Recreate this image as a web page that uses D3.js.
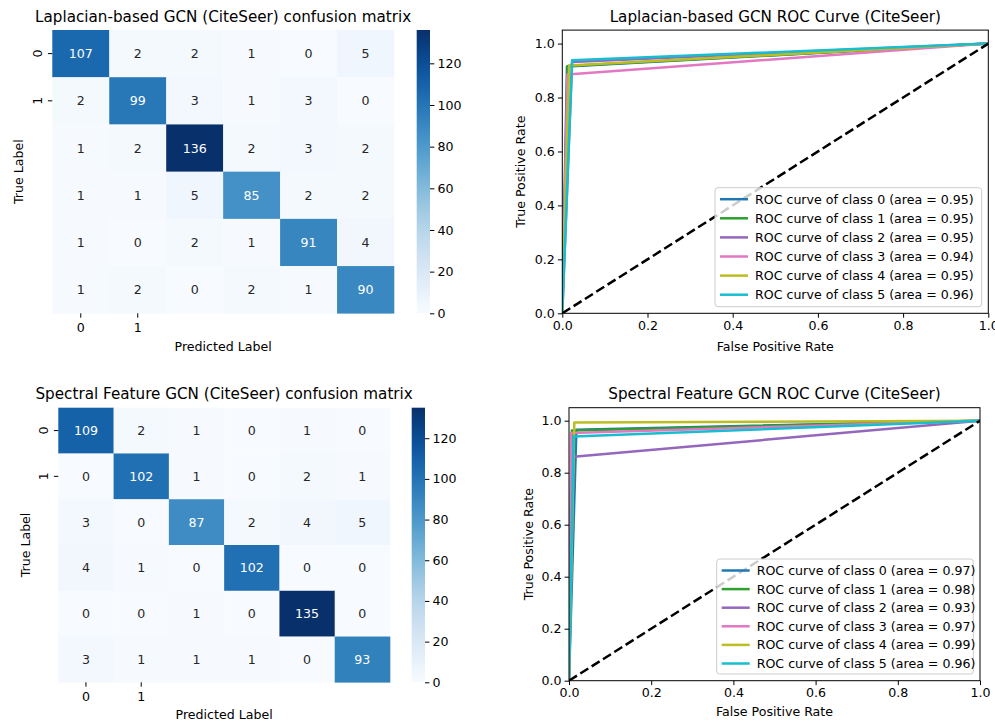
<!DOCTYPE html>
<html><head><meta charset="utf-8">
<script src="https://cdn.jsdelivr.net/npm/d3@7"></script>
<style>body{margin:0;background:#fff}svg{display:block;font-family:"DejaVu Sans",sans-serif}</style>
</head><body><svg id="c" width="995" height="725"></svg>
<script>
// ---------------- data ----------------
const classes = [0, 1, 2, 3, 4, 5];
const heatTickLabels = ["0", "1"];
const cbarTicks = [0, 20, 40, 60, 80, 100, 120];
const rocTicks = [0, 0.2, 0.4, 0.6, 0.8, 1.0];

const lapMatrix = [
  [107, 2, 2, 1, 0, 5],
  [2, 99, 3, 1, 3, 0],
  [1, 2, 136, 2, 3, 2],
  [1, 1, 5, 85, 2, 2],
  [1, 0, 2, 1, 91, 4],
  [1, 2, 0, 2, 1, 90]
];
const specMatrix = [
  [109, 2, 1, 0, 1, 0],
  [0, 102, 1, 0, 2, 1],
  [3, 0, 87, 2, 4, 5],
  [4, 1, 0, 102, 0, 0],
  [0, 0, 1, 0, 135, 0],
  [3, 1, 1, 1, 0, 93]
];
const lapFpr = [0.011, 0.013, 0.023, 0.012, 0.016, 0.023];
const lapTpr = [0.915, 0.917, 0.932, 0.885, 0.919, 0.938];
const lapAuc = ["0.95", "0.95", "0.95", "0.94", "0.95", "0.96"];
const specFpr = [0.018, 0.007, 0.011, 0.005, 0.013, 0.011];
const specTpr = [0.965, 0.962, 0.861, 0.953, 0.993, 0.939];
const specAuc = ["0.97", "0.98", "0.93", "0.97", "0.99", "0.96"];
const curveColors = ["#1f77b4", "#2ca02c", "#9467bd", "#e377c2", "#bcbd22", "#17becf"];

// ---------------- drawing ----------------
const svg = d3.select("#c");
const FS = 12.6, TFS = 15.2, LW = 2.5;
const txt = "#000";

function lum(c) {
  const r = d3.rgb(c);
  const f = v => { v /= 255; return v <= 0.03928 ? v / 12.92 : Math.pow((v + 0.055) / 1.055, 2.4); };
  return 0.2126 * f(r.r) + 0.7152 * f(r.g) + 0.0722 * f(r.b);
}

function heatmap(m, L) {
  const g = svg.append("g");
  const vmax = d3.max(m.flat());
  const color = d3.scaleSequential(d3.interpolateBlues).domain([0, vmax]);
  const x = d3.scaleBand().domain(classes).range([L.left, L.right]);
  const y = d3.scaleBand().domain(classes).range([L.top, L.bottom]);
  const cells = [];
  m.forEach((row, i) => row.forEach((v, j) => cells.push({ i, j, v })));
  g.selectAll("rect.cell").data(cells).enter().append("rect")
    .attr("x", d => x(d.j)).attr("y", d => y(d.i))
    .attr("width", x.bandwidth() + 0.3).attr("height", y.bandwidth() + 0.3)
    .attr("fill", d => color(d.v));
  g.selectAll("text.ann").data(cells).enter().append("text")
    .attr("x", d => x(d.j) + x.bandwidth() / 2).attr("y", d => y(d.i) + y.bandwidth() / 2)
    .attr("dy", "0.36em").attr("text-anchor", "middle").attr("font-size", FS)
    .attr("fill", d => lum(color(d.v)) > 0.408 ? "#262626" : "#fff")
    .text(d => d.v);
  heatTickLabels.forEach((lab, k) => {
    const cx = x(classes[k]) + x.bandwidth() / 2;
    g.append("line").attr("x1", cx).attr("x2", cx).attr("y1", L.bottom).attr("y2", L.bottom + 4.4).attr("stroke", "#000").attr("stroke-width", 1);
    g.append("text").attr("x", cx).attr("y", L.bottom + 19).attr("text-anchor", "middle").attr("font-size", FS).attr("fill", txt).text(lab);
    const cy = y(classes[k]) + y.bandwidth() / 2;
    g.append("line").attr("x1", L.left - 4.4).attr("x2", L.left).attr("y1", cy).attr("y2", cy).attr("stroke", "#000").attr("stroke-width", 1);
    g.append("text").attr("transform", `translate(${L.left - 10},${cy}) rotate(-90)`).attr("text-anchor", "middle").attr("font-size", FS).attr("fill", txt).text(lab);
  });
  g.append("text").attr("x", (L.left + L.right) / 2).attr("y", L.titleY).attr("text-anchor", "middle").attr("font-size", TFS).attr("fill", txt).text(L.title);
  g.append("text").attr("x", (L.left + L.right) / 2).attr("y", L.xlabY).attr("text-anchor", "middle").attr("font-size", FS).attr("fill", txt).text("Predicted Label");
  g.append("text").attr("transform", `translate(${L.ylabX},${(L.top + L.bottom) / 2}) rotate(-90)`).attr("text-anchor", "middle").attr("font-size", FS).attr("fill", txt).text("True Label");
  // colorbar
  const cy = d3.scaleLinear().domain([0, vmax]).range([L.bottom, L.top]);
  const defs = svg.append("defs");
  const gid = "grad" + Math.round(L.top);
  const grad = defs.append("linearGradient").attr("id", gid).attr("x1", 0).attr("x2", 0).attr("y1", 1).attr("y2", 0);
  d3.range(0, 1.0001, 0.05).forEach(t => grad.append("stop").attr("offset", t).attr("stop-color", color(t * vmax)));
  g.append("rect").attr("x", L.cbLeft).attr("y", L.top).attr("width", L.cbRight - L.cbLeft).attr("height", L.bottom - L.top).attr("fill", `url(#${gid})`);
  const ax = d3.axisRight(cy).tickValues(cbarTicks).tickSize(4.4).tickPadding(3.2).tickFormat(d3.format("d"));
  const ag = g.append("g").attr("transform", `translate(${L.cbRight},0)`).call(ax);
  ag.select(".domain").remove();
  ag.selectAll("line").attr("stroke", "#000").attr("stroke-width", 1);
  ag.selectAll("text").attr("font-size", FS).attr("fill", txt).attr("font-family", "DejaVu Sans");
}

function roc(fpr, tpr, auc, L) {
  const g = svg.append("g");
  const x = d3.scaleLinear().domain([0, 1]).range([L.left, L.right]);
  const y = d3.scaleLinear().domain([0, 1.05]).range([L.bottom, L.top]);
  const clipId = "clip" + Math.round(L.top);
  svg.append("defs").append("clipPath").attr("id", clipId).append("rect")
    .attr("x", L.left).attr("y", L.top).attr("width", L.right - L.left).attr("height", L.bottom - L.top);
  const line = d3.line().x(d => x(d[0])).y(d => y(d[1]));
  const pg = g.append("g").attr("clip-path", `url(#${clipId})`);
  classes.forEach((c, i) => {
    pg.append("path").attr("d", line([[0, 0], [fpr[i], tpr[i]], [1, 1]]))
      .attr("fill", "none").attr("stroke", curveColors[i]).attr("stroke-width", LW).attr("stroke-linejoin", "round");
  });
  pg.append("path").attr("d", line([[0, 0], [1, 1]])).attr("fill", "none").attr("stroke", "#000")
    .attr("stroke-width", LW).attr("stroke-dasharray", "9.4,4");
  const xa = g.append("g").attr("transform", `translate(0,${L.bottom})`)
    .call(d3.axisBottom(x).tickValues(rocTicks).tickSize(4.4).tickPadding(3.2).tickFormat(d3.format(".1f")));
  const ya = g.append("g").attr("transform", `translate(${L.left},0)`)
    .call(d3.axisLeft(y).tickValues(rocTicks).tickSize(4.4).tickPadding(3.2).tickFormat(d3.format(".1f")));
  [xa, ya].forEach(a => {
    a.select(".domain").remove();
    a.selectAll("line").attr("stroke", "#000").attr("stroke-width", 1);
    a.selectAll("text").attr("font-size", FS).attr("fill", txt).attr("font-family", "DejaVu Sans");
  });
  g.append("rect").attr("x", L.left).attr("y", L.top).attr("width", L.right - L.left).attr("height", L.bottom - L.top)
    .attr("fill", "none").attr("stroke", "#000").attr("stroke-width", 1);
  const lg = g.append("g");
  lg.append("rect").attr("x", L.lgX).attr("y", L.lgY).attr("width", L.lgW).attr("height", L.lgH).attr("rx", 3)
    .attr("fill", "#fff").attr("fill-opacity", 0.8).attr("stroke", "#cccccc").attr("stroke-width", 1);
  classes.forEach((c, i) => {
    const yy = L.lgY + 11.5 + i * L.lgStep;
    lg.append("line").attr("x1", L.lgX + 5).attr("x2", L.lgX + 33).attr("y1", yy).attr("y2", yy)
      .attr("stroke", curveColors[i]).attr("stroke-width", LW);
    lg.append("text").attr("x", L.lgX + 40).attr("y", yy).attr("dy", "0.36em").attr("font-size", FS).attr("fill", txt)
      .text(`ROC curve of class ${c} (area = ${auc[i]})`);
  });
  g.append("text").attr("x", (L.left + L.right) / 2).attr("y", L.titleY).attr("text-anchor", "middle").attr("font-size", TFS).attr("fill", txt).text(L.title);
  g.append("text").attr("x", (L.left + L.right) / 2).attr("y", L.xlabY).attr("text-anchor", "middle").attr("font-size", FS).attr("fill", txt).text("False Positive Rate");
  g.append("text").attr("transform", `translate(${L.ylabX},${(L.top + L.bottom) / 2}) rotate(-90)`).attr("text-anchor", "middle").attr("font-size", FS).attr("fill", txt).text("True Positive Rate");
}

heatmap(lapMatrix, { left: 52.3, right: 394, top: 30, bottom: 313.3, cbLeft: 416.7, cbRight: 430,
  titleY: 21.5, xlabY: 351, ylabX: 23, title: "Laplacian-based GCN (CiteSeer) confusion matrix" });
heatmap(specMatrix, { left: 58.3, right: 390, top: 407.7, bottom: 682.3, cbLeft: 411.7, cbRight: 425,
  titleY: 399, xlabY: 719, ylabX: 29.5, title: "Spectral Feature GCN (CiteSeer) confusion matrix" });
roc(lapFpr, lapTpr, lapAuc, { left: 562.3, right: 988.3, top: 30.1, bottom: 313.3,
  lgX: 715, lgY: 187.7, lgW: 266.7, lgH: 119, lgStep: 19.1,
  titleY: 21.5, xlabY: 351, ylabX: 524.5, title: "Laplacian-based GCN ROC Curve (CiteSeer)" });
roc(specFpr, specTpr, specAuc, { left: 569, right: 980, top: 407.7, bottom: 680.7,
  lgX: 716.7, lgY: 559, lgW: 256.6, lgH: 115, lgStep: 18.6,
  titleY: 399, xlabY: 716, ylabX: 533, title: "Spectral Feature GCN ROC Curve (CiteSeer)" });
</script></body></html>
